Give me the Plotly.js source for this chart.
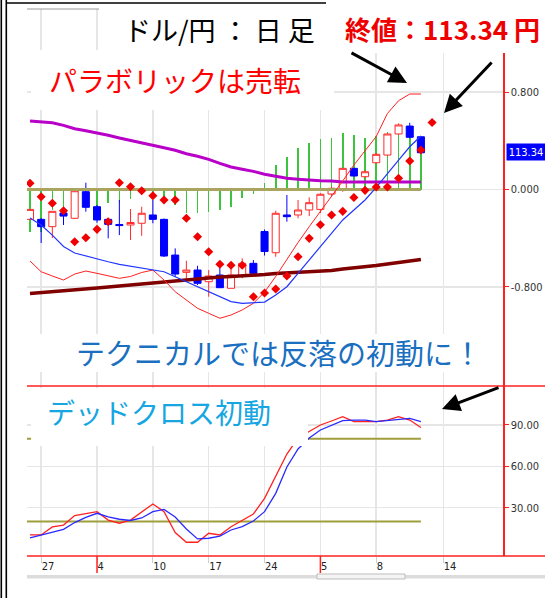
<!DOCTYPE html>
<html><head><meta charset="utf-8">
<script src="https://cdn.plot.ly/plotly-3.0.1.min.js"></script>
<style>html,body{margin:0;padding:0;background:#fff;}#chart{width:545px;height:598px;}</style>
</head><body><div id="chart"></div>
<script>
// ---- data (daily candles, index 0..35) ----
const dayIdx = [0,1,2,3,4,5,6,7,8,9,10,11,12,13,14,15,16,17,18,19,20,21,22,23,24,25,26,27,28,29,30,31,32,33,34,35];
const sarIdx = [0,1,2,3,4,5,6,7,8,9,10,11,12,13,14,15,16,17,18,19,20,21,22,23,24,25,26,27,28,29,30,31,32,33,34,35,36];
const openV  = [-0.245,-0.245,-0.305,-0.193,-0.236,-0.018,-0.141,-0.245,-0.287,-0.291,-0.277,-0.209,-0.245,-0.538,-0.680,-0.661,-0.757,-0.702,-0.811,-0.710,-0.606,-0.345,-0.519,-0.209,-0.209,-0.168,-0.163,-0.037,-0.004,0.174,0.105,0.220,0.283,0.456,0.521,0.433];
const highV  = [-0.160,-0.234,-0.177,-0.152,-0.004,0.056,-0.127,-0.234,-0.086,-0.160,-0.141,-0.086,-0.238,-0.483,-0.585,-0.626,-0.661,-0.634,-0.634,-0.565,-0.579,-0.328,-0.174,-0.045,-0.086,-0.064,-0.029,0.023,0.177,0.177,0.160,0.300,0.461,0.543,0.548,0.439];
const lowV   = [-0.250,-0.439,-0.398,-0.291,-0.242,-0.182,-0.273,-0.401,-0.374,-0.415,-0.380,-0.277,-0.554,-0.716,-0.757,-0.784,-0.880,-0.809,-0.811,-0.729,-0.694,-0.542,-0.552,-0.264,-0.236,-0.218,-0.193,-0.059,-0.018,0.107,0.094,0.213,0.277,0.447,0.420,0.297];
const closeV = [-0.163,-0.305,-0.179,-0.218,-0.010,-0.146,-0.250,-0.286,-0.296,-0.271,-0.195,-0.245,-0.546,-0.694,-0.661,-0.770,-0.710,-0.806,-0.702,-0.606,-0.688,-0.509,-0.195,-0.223,-0.168,-0.108,-0.039,0.010,0.174,0.111,0.146,0.289,0.456,0.530,0.429,0.302];
const sarV   = [0.051,-0.059,-0.113,-0.174,-0.429,-0.396,-0.327,-0.264,0.056,0.023,-0.010,-0.051,-0.086,-0.086,-0.236,-0.388,-0.511,-0.614,-0.622,-0.622,-0.880,-0.850,-0.817,-0.710,-0.552,-0.401,-0.289,-0.209,-0.179,-0.066,-0.007,0.021,0.021,0.092,0.234,0.324,0.550];
const blueLine = [-0.234,-0.291,-0.374,-0.468,-0.521,-0.546,-0.568,-0.593,-0.614,-0.628,-0.647,-0.655,-0.675,-0.716,-0.757,-0.798,-0.839,-0.885,-0.920,-0.934,-0.929,-0.924,-0.866,-0.798,-0.688,-0.579,-0.470,-0.360,-0.250,-0.168,-0.086,0.018,0.133,0.242,0.351,0.439];
const redLine  = [-0.587,-0.675,-0.710,-0.743,-0.694,-0.669,-0.688,-0.710,-0.729,-0.714,-0.681,-0.661,-0.743,-0.839,-0.907,-0.975,-1.016,-1.057,-1.030,-0.989,-0.934,-0.842,-0.714,-0.571,-0.435,-0.305,-0.182,-0.053,0.070,0.201,0.316,0.435,0.624,0.729,0.784,0.784];
const magentaLine = [0.562,0.552,0.548,0.527,0.499,0.483,0.466,0.445,0.423,0.404,0.384,0.368,0.343,0.322,0.294,0.273,0.248,0.215,0.185,0.166,0.149,0.125,0.107,0.092,0.084,0.076,0.072,0.070,0.062,0.062,0.062,0.062,0.062,0.062,0.062,0.062];
const brownLine = [-0.854,-0.847,-0.842,-0.836,-0.829,-0.821,-0.809,-0.800,-0.792,-0.784,-0.772,-0.764,-0.755,-0.747,-0.739,-0.731,-0.722,-0.718,-0.714,-0.710,-0.706,-0.698,-0.690,-0.686,-0.681,-0.677,-0.673,-0.665,-0.653,-0.645,-0.637,-0.624,-0.612,-0.600,-0.587,-0.575];
const histV = [-0.346,-0.346,-0.168,-0.291,-0.168,-0.120,-0.144,-0.113,-0.113,-0.080,-0.045,-0.030,-0.113,-0.127,-0.195,-0.195,-0.182,-0.170,-0.141,-0.072,-0.037,0.056,0.201,0.269,0.338,0.379,0.412,0.420,0.468,0.450,0.420,0.440,0.472,0.475,0.476,0.338];
const stochK = [10.2,10.2,16.0,17.4,24.3,25.9,27.1,21.0,18.7,21.0,26.9,32.7,27.1,12.0,4.9,4.9,11.4,10.2,16.2,21.0,25.4,36.8,52.5,68.9,80.6,85.3,90.0,92.9,96.0,92.4,92.4,92.4,93.6,96.0,93.6,88.2];
const stochD = [8.0,10.2,12.3,14.3,19.2,22.9,25.9,23.4,21.6,20.7,22.5,27.1,28.7,23.2,14.5,7.3,7.8,9.4,13.8,16.2,20.3,27.1,40.4,59.5,72.6,80.6,86.4,90.0,93.1,93.6,93.6,92.4,93.1,94.1,94.8,92.4];
const levelSpan = [-0.3, 35];
const zeroLevel = [0, 0];
const lowLevel = [20, 20];
const highLevel = [80, 80];
const tickIdx = [1,6,11,16,21,26,31,37];
const tickLabels = ['27','4','10','17','24','5','8','14'];
const monthStartIdx = [6,26];
const priceTicks = [-0.8,0,0.8];
const priceTickText = ['-0.800','0.000','0.800'];
const oscTicks = [30,60,90];
const lastPrice = '113.34';

// ---- layout helpers (pixel -> paper) ----
const W = 545, H = 598;
const PX = x => x / W, PY = y => 1 - y / H;
const CJK = '"Noto Sans CJK JP", "Noto Sans CJK SC", sans-serif';
const NUMF = '"Liberation Sans Narrow", "DejaVu Sans Condensed", "Liberation Sans", sans-serif';

const traces = [
  {type:'bar', x:dayIdx, y:histV, width:0.14, marker:{color:'#3dc43d', line:{width:0}}, xaxis:'x', yaxis:'y'},
  {type:'scatter', mode:'lines', x:levelSpan, y:zeroLevel, line:{color:'#aaa55e', width:3}, xaxis:'x', yaxis:'y'},
  {type:'scatter', mode:'lines', x:dayIdx, y:magentaLine, line:{color:'#b800c8', width:3}, xaxis:'x', yaxis:'y'},
  {type:'scatter', mode:'lines', x:dayIdx, y:brownLine, line:{color:'#800000', width:3.5}, xaxis:'x', yaxis:'y'},
  {type:'candlestick', x:dayIdx, open:openV, high:highV, low:lowV, close:closeV, whiskerwidth:0,
   increasing:{line:{color:'#ff2a2a', width:1}, fillcolor:'#ffffff'},
   decreasing:{line:{color:'#0000ff', width:1}, fillcolor:'#0000ff'}, xaxis:'x', yaxis:'y'},
  {type:'scatter', mode:'lines', x:dayIdx, y:redLine, line:{color:'#ff2020', width:1}, xaxis:'x', yaxis:'y'},
  {type:'scatter', mode:'lines', x:dayIdx, y:blueLine, line:{color:'#2035ff', width:1.2}, xaxis:'x', yaxis:'y'},
  {type:'scatter', mode:'markers', x:sarIdx, y:sarV, marker:{symbol:'diamond', size:7, color:'#f00000'}, xaxis:'x', yaxis:'y'},
  {type:'scatter', mode:'lines', x:levelSpan, y:lowLevel, line:{color:'#a09e3c', width:2}, xaxis:'x', yaxis:'y2'},
  {type:'scatter', mode:'lines', x:levelSpan, y:highLevel, line:{color:'#a09e3c', width:2}, xaxis:'x', yaxis:'y2'},
  {type:'scatter', mode:'lines', x:dayIdx, y:stochK, line:{color:'#ff2020', width:1.3}, xaxis:'x', yaxis:'y2'},
  {type:'scatter', mode:'lines', x:dayIdx, y:stochD, line:{color:'#2a2aff', width:1.3}, xaxis:'x', yaxis:'y2'}
];

const rect = (x0,y0,x1,y1) => ({type:'rect', xref:'paper', yref:'paper', layer:'above',
  x0:PX(x0), x1:PX(x1), y0:PY(y0), y1:PY(y1), fillcolor:'#ffffff', line:{width:0}});
const hline = (x0,x1,y,color,w) => ({type:'line', xref:'paper', yref:'paper', layer:'above',
  x0:PX(x0), x1:PX(x1), y0:PY(y), y1:PY(y), line:{color:color, width:w}});
const vline = (x,y0,y1,color,w) => ({type:'line', xref:'paper', yref:'paper', layer:'above',
  x0:PX(x), x1:PX(x), y0:PY(y0), y1:PY(y1), line:{color:color, width:w}});

const shapes = [
  hline(27,503,9,'#9a9a9a',1),
  rect(99,4,326,50),
  rect(31,50,334,110),
  rect(326,0,545,53),
  rect(31,334,500,372),
  rect(31,388,308,446),
  hline(27,545,386,'#ff2020',1.5),
  hline(27,545,556,'#ff2020',1.5),
  vline(1.3,0,598,'#000',1.6),
  vline(6.3,0,598,'#000',1.6),
  hline(6,326,3,'#000',1.6),
  {type:'rect', xref:'paper', yref:'paper', layer:'above', x0:PX(27), x1:PX(545), y0:PY(575), y1:PY(578.5), fillcolor:'#dcdcdc', line:{width:0}},
  {type:'rect', xref:'paper', yref:'paper', layer:'above', x0:PX(317), x1:PX(405), y0:PY(574), y1:PY(579), fillcolor:'#f4f4f4', line:{color:'#bdbdbd', width:1}}
];
monthStartIdx.forEach(i => shapes.push({type:'line', xref:'x', yref:'paper', layer:'above',
  x0:i, x1:i, y0:PY(556), y1:PY(573), line:{color:'#ff2020', width:1.5}}));

const arrow = (tx,ty,sx,sy) => ({xref:'paper', yref:'paper', x:PX(tx), y:PY(ty), ax:sx-tx, ay:sy-ty,
  text:'', showarrow:true, arrowhead:2, arrowsize:1.2, arrowwidth:3, arrowcolor:'#000', standoff:0});

const annotations = [
  {xref:'paper', yref:'paper', x:PX(219), y:PY(30), xanchor:'center', yanchor:'middle', showarrow:false,
   text:'ドル/円 ： 日 足', font:{family:CJK, size:27, color:'#000'}},
  {xref:'paper', yref:'paper', x:PX(442), y:PY(29), xanchor:'center', yanchor:'middle', showarrow:false,
   text:'<b>終値：113.34 円</b>', font:{family:CJK, size:26, color:'#ee0000'}},
  {xref:'paper', yref:'paper', x:PX(47), y:PY(80), xanchor:'left', yanchor:'middle', showarrow:false,
   text:'パラボリックは売転', font:{family:CJK, size:28, color:'#ff0000'}},
  {xref:'paper', yref:'paper', x:PX(74), y:PY(352), xanchor:'left', yanchor:'middle', showarrow:false,
   text:'テクニカルでは反落の初動に！', font:{family:CJK, size:29, color:'#1a6fc0'}},
  {xref:'paper', yref:'paper', x:PX(45), y:PY(412), xanchor:'left', yanchor:'middle', showarrow:false,
   text:'デッドクロス初動', font:{family:CJK, size:28, color:'#16a6e2'}},
  {xref:'paper', yref:'paper', x:PX(506), y:PY(152), xanchor:'left', yanchor:'middle', showarrow:false,
   text:lastPrice, width:38, height:16, bgcolor:'#0000ff', borderpad:0, font:{family:NUMF, size:11, color:'#ffffff'}},
  arrow(407,83,350,52),
  arrow(444,113,493,61),
  arrow(442,409,500,387)
];

const layout = {
  width:W, height:H, margin:{l:0,r:0,t:0,b:0}, paper_bgcolor:'#ffffff', plot_bgcolor:'#ffffff',
  showlegend:false, hovermode:false, boxgap:0.37, boxgroupgap:0, bargap:0,
  xaxis:{domain:[PX(27),PX(503)], range:[-0.269,42.35], anchor:'y2', rangeslider:{visible:false},
    tickmode:'array', tickvals:tickIdx, ticktext:tickLabels, showgrid:true, gridcolor:'#e6e6e6', gridwidth:1.5,
    zeroline:false, showline:false, ticks:'outside', ticklen:6, tickcolor:'#cfcfcf', tickwidth:1,
    ticklabelposition:'outside right', tickfont:{family:NUMF, size:11, color:'#222'}},
  yaxis:{domain:[PY(386),PY(9)], range:[-1.613,1.482], side:'right', anchor:'x',
    tickmode:'array', tickvals:priceTicks, ticktext:priceTickText, showgrid:true, gridcolor:'#e6e6e6', gridwidth:1.5,
    zeroline:false, showline:true, linecolor:'#ff2020', linewidth:1.5, ticks:'outside', ticklen:4, tickcolor:'#ff2020',
    tickfont:{family:NUMF, size:11, color:'#333'}},
  yaxis2:{domain:[PY(556),PY(386)], range:[-5.08,118.3], side:'right', anchor:'x',
    tickmode:'array', tickvals:oscTicks, tickformat:'.2f', showgrid:true, gridcolor:'#e6e6e6', gridwidth:1.5,
    zeroline:false, showline:true, linecolor:'#ff2020', linewidth:1.5, ticks:'outside', ticklen:4, tickcolor:'#ff2020',
    tickfont:{family:NUMF, size:11, color:'#333'}},
  shapes:shapes, annotations:annotations
};

Plotly.newPlot('chart', traces, layout, {staticPlot:true, displayModeBar:false});
</script></body></html>
